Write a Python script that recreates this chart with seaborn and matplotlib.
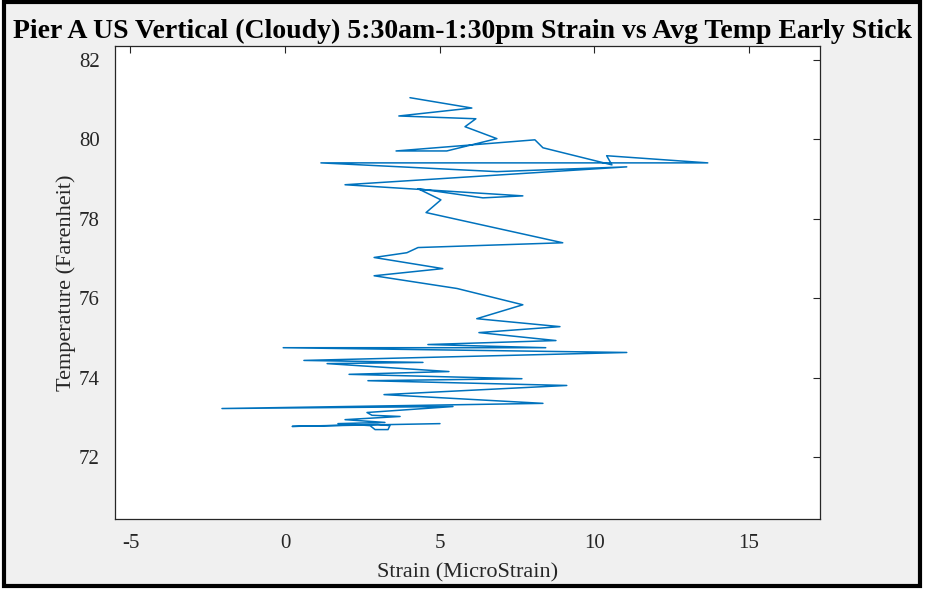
import matplotlib
matplotlib.use("Agg")
import matplotlib.pyplot as plt
from matplotlib.patches import Rectangle
import seaborn as sns
import pandas as pd

strain = [5.01, 0.23, 3.00, 3.39, 3.33, 2.91, 2.75, 1.71, 3.23, 1.94, 3.72, 2.81, 2.65,
          5.43, -2.04, 8.34, 3.20, 9.11, 2.68, 7.66, 2.07, 5.30, 1.36, 4.46, 0.61, 11.05,
          -0.06, 8.43, 4.62, 8.76, 6.27, 8.89, 6.20, 7.69, 5.56, 2.88, 5.10, 2.88, 3.94,
          4.30, 8.98, 4.56, 5.04, 4.30, 6.40, 7.69, 1.94, 11.05, 6.85, 1.16, 13.67, 10.40,
          10.57, 8.34, 8.08, 3.59, 5.23, 6.85, 5.82, 6.17, 3.68, 6.04, 4.04]
temp = [72.85, 72.78, 72.83, 72.80, 72.70, 72.70, 72.80, 72.85, 72.88, 72.95, 73.03, 73.06,
        73.13, 73.28, 73.23, 73.36, 73.58, 73.81, 73.93, 73.98, 74.09, 74.16, 74.36, 74.39,
        74.44, 74.64, 74.76, 74.76, 74.84, 74.94, 75.14, 75.29, 75.49, 75.84, 76.25, 76.57,
        76.75, 77.03, 77.15, 77.28, 77.40, 78.16, 78.48, 78.76, 78.53, 78.58, 78.86, 79.31,
        79.19, 79.41, 79.41, 79.59, 79.36, 79.79, 79.99, 79.71, 79.71, 80.02, 80.32, 80.52,
        80.59, 80.79, 81.05]
x_ticks = [-5, 0, 5, 10, 15]
y_ticks = [72, 74, 76, 78, 80, 82]

title = "Pier A US Vertical (Cloudy) 5:30am-1:30pm Strain vs Avg Temp Early Stick"
xlabel = "Strain (MicroStrain)"
ylabel = "Temperature (Farenheit)"

sns.set_style("white")
plt.rcParams['font.family'] = ['Liberation Serif', 'DejaVu Serif']

df = pd.DataFrame({"strain": strain, "temp": temp, "order": range(len(strain))})

fig = plt.figure(figsize=(9.25, 5.9), dpi=100, facecolor="white")
fig.patches.append(Rectangle((0.004, 0.006), 0.991, 0.99, transform=fig.transFigure,
                             facecolor="#f0f0f0", edgecolor="black", linewidth=3, zorder=-10))
ax = fig.add_axes([0.1243, 0.1203, 0.7622, 0.8017])
ax.set_facecolor("white")
sns.lineplot(data=df, x="strain", y="temp", sort=False, estimator=None, ax=ax,
             color="#0072BD", linewidth=1.1)
ax.set_xlim(-5.5, 17.3)
ax.set_ylim(70.45, 82.35)
ax.set_xticks(x_ticks)
ax.set_yticks(y_ticks)
ax.set_xticklabels([str(t) for t in x_ticks])
ax.set_yticklabels([str(t) for t in y_ticks])
ax.tick_params(direction="in", length=5, width=0.8, colors="#262626", labelsize=15,
               top=True, right=True, labelcolor="#262626")
ax.tick_params(axis="x", pad=11)
ax.tick_params(axis="y", pad=11)
for s in ax.spines.values():
    s.set_color("#262626")
    s.set_linewidth(0.9)
ax.set_xlabel(xlabel, fontsize=16, color="#262626", labelpad=7)
ax.set_ylabel(ylabel, fontsize=16, color="#262626", labelpad=2)
fig.text(0.5, 0.946, title, ha="center", va="center", fontsize=20, fontweight="bold", color="black")

fig.savefig("out.png", dpi=100, facecolor=fig.get_facecolor())
